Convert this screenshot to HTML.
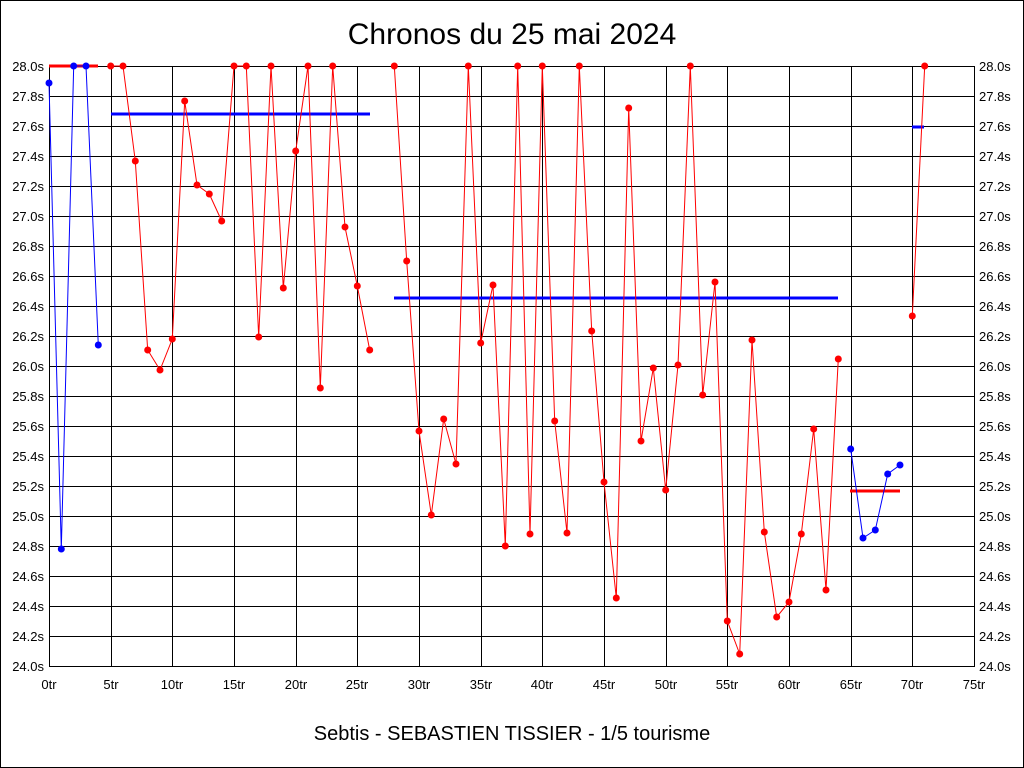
<!DOCTYPE html>
<html><head><style>body{margin:0;background:#fff}svg{display:block}text{font-family:"Liberation Sans",sans-serif}</style></head><body>
<svg width="1024" height="768" xmlns="http://www.w3.org/2000/svg">
<rect x="0.5" y="0.5" width="1023" height="767" fill="#fff" stroke="#000"/>
<text x="512" y="44" font-size="30" text-anchor="middle">Chronos du 25 mai 2024</text>
<text x="512" y="740" font-size="20" text-anchor="middle">Sebtis - SEBASTIEN TISSIER - 1/5 tourisme</text>
<g stroke="#000" stroke-width="1">
<line x1="49" x2="974" y1="66.5" y2="66.5"/><line x1="49" x2="974" y1="96.5" y2="96.5"/><line x1="49" x2="974" y1="126.5" y2="126.5"/><line x1="49" x2="974" y1="156.5" y2="156.5"/><line x1="49" x2="974" y1="186.5" y2="186.5"/><line x1="49" x2="974" y1="216.5" y2="216.5"/><line x1="49" x2="974" y1="246.5" y2="246.5"/><line x1="49" x2="974" y1="276.5" y2="276.5"/><line x1="49" x2="974" y1="306.5" y2="306.5"/><line x1="49" x2="974" y1="336.5" y2="336.5"/><line x1="49" x2="974" y1="366.5" y2="366.5"/><line x1="49" x2="974" y1="396.5" y2="396.5"/><line x1="49" x2="974" y1="426.5" y2="426.5"/><line x1="49" x2="974" y1="456.5" y2="456.5"/><line x1="49" x2="974" y1="486.5" y2="486.5"/><line x1="49" x2="974" y1="516.5" y2="516.5"/><line x1="49" x2="974" y1="546.5" y2="546.5"/><line x1="49" x2="974" y1="576.5" y2="576.5"/><line x1="49" x2="974" y1="606.5" y2="606.5"/><line x1="49" x2="974" y1="636.5" y2="636.5"/><line x1="49" x2="974" y1="666.5" y2="666.5"/>
<line y1="66" y2="667" x1="49.5" x2="49.5"/><line y1="66" y2="667" x1="111.5" x2="111.5"/><line y1="66" y2="667" x1="172.5" x2="172.5"/><line y1="66" y2="667" x1="234.5" x2="234.5"/><line y1="66" y2="667" x1="296.5" x2="296.5"/><line y1="66" y2="667" x1="357.5" x2="357.5"/><line y1="66" y2="667" x1="419.5" x2="419.5"/><line y1="66" y2="667" x1="481.5" x2="481.5"/><line y1="66" y2="667" x1="542.5" x2="542.5"/><line y1="66" y2="667" x1="604.5" x2="604.5"/><line y1="66" y2="667" x1="666.5" x2="666.5"/><line y1="66" y2="667" x1="727.5" x2="727.5"/><line y1="66" y2="667" x1="789.5" x2="789.5"/><line y1="66" y2="667" x1="851.5" x2="851.5"/><line y1="66" y2="667" x1="912.5" x2="912.5"/><line y1="66" y2="667" x1="974.5" x2="974.5"/>
</g>
<g font-size="13" text-anchor="end">
<text x="44" y="71">28.0s</text><text x="44" y="101">27.8s</text><text x="44" y="131">27.6s</text><text x="44" y="161">27.4s</text><text x="44" y="191">27.2s</text><text x="44" y="221">27.0s</text><text x="44" y="251">26.8s</text><text x="44" y="281">26.6s</text><text x="44" y="311">26.4s</text><text x="44" y="341">26.2s</text><text x="44" y="371">26.0s</text><text x="44" y="401">25.8s</text><text x="44" y="431">25.6s</text><text x="44" y="461">25.4s</text><text x="44" y="491">25.2s</text><text x="44" y="521">25.0s</text><text x="44" y="551">24.8s</text><text x="44" y="581">24.6s</text><text x="44" y="611">24.4s</text><text x="44" y="641">24.2s</text><text x="44" y="671">24.0s</text>
</g>
<g font-size="13">
<text x="979" y="71">28.0s</text><text x="979" y="101">27.8s</text><text x="979" y="131">27.6s</text><text x="979" y="161">27.4s</text><text x="979" y="191">27.2s</text><text x="979" y="221">27.0s</text><text x="979" y="251">26.8s</text><text x="979" y="281">26.6s</text><text x="979" y="311">26.4s</text><text x="979" y="341">26.2s</text><text x="979" y="371">26.0s</text><text x="979" y="401">25.8s</text><text x="979" y="431">25.6s</text><text x="979" y="461">25.4s</text><text x="979" y="491">25.2s</text><text x="979" y="521">25.0s</text><text x="979" y="551">24.8s</text><text x="979" y="581">24.6s</text><text x="979" y="611">24.4s</text><text x="979" y="641">24.2s</text><text x="979" y="671">24.0s</text>
</g>
<g font-size="13" text-anchor="middle">
<text x="49" y="689">0tr</text><text x="111" y="689">5tr</text><text x="172" y="689">10tr</text><text x="234" y="689">15tr</text><text x="296" y="689">20tr</text><text x="357" y="689">25tr</text><text x="419" y="689">30tr</text><text x="481" y="689">35tr</text><text x="542" y="689">40tr</text><text x="604" y="689">45tr</text><text x="666" y="689">50tr</text><text x="727" y="689">55tr</text><text x="789" y="689">60tr</text><text x="851" y="689">65tr</text><text x="912" y="689">70tr</text><text x="974" y="689">75tr</text>
</g>
<g stroke-width="3">
<line x1="49" x2="98" y1="66" y2="66" stroke="#f00"/>
<line x1="111" x2="370" y1="114" y2="114" stroke="#00f"/>
<line x1="394" x2="838" y1="298" y2="298" stroke="#00f"/>
<line x1="850" x2="900" y1="491" y2="491" stroke="#f00"/>
<line x1="912" x2="924" y1="127" y2="127" stroke="#00f"/>
</g>
<g fill="none" stroke-width="1">
<polyline stroke="#00f" points="49,83 61.3,549 73.7,66 86,66 98.3,345"/>
<polyline stroke="#f00" points="110.7,66 123,66 135.3,161 147.7,350 160,370 172.3,339 184.7,101 197,185 209.3,194 221.7,221 234,66 246.3,66 258.7,337 271,66 283.3,288 295.7,151 308,66 320.3,388 332.7,66 345,227 357.3,286 369.7,350"/>
<polyline stroke="#f00" points="394.3,66 406.7,261 419,431 431.3,515 443.7,419 456,464 468.3,66 480.7,343 493,285 505.3,546 517.7,66 530,534 542.3,66 554.7,421 567,533 579.3,66 591.7,331 604,482 616.3,598 628.7,108 641,441 653.3,368 665.7,490 678,365 690.3,66 702.7,395 715,282 727.3,621 739.7,654 752,340 764.3,532 776.7,617 789,602 801.3,534 813.7,429 826,590 838.3,359"/>
<polyline stroke="#00f" points="850.7,449 863,538 875.3,530 887.7,474 900,465"/>
<polyline stroke="#f00" points="912.3,316 924.7,66"/>
</g>
<g fill="#00f">
<circle cx="49" cy="83" r="3.5"/><circle cx="61.3" cy="549" r="3.5"/><circle cx="73.7" cy="66" r="3.5"/><circle cx="86" cy="66" r="3.5"/><circle cx="98.3" cy="345" r="3.5"/>
<circle cx="850.7" cy="449" r="3.5"/><circle cx="863" cy="538" r="3.5"/><circle cx="875.3" cy="530" r="3.5"/><circle cx="887.7" cy="474" r="3.5"/><circle cx="900" cy="465" r="3.5"/>
</g>
<g fill="#f00">
<circle cx="110.7" cy="66" r="3.5"/><circle cx="123" cy="66" r="3.5"/><circle cx="135.3" cy="161" r="3.5"/><circle cx="147.7" cy="350" r="3.5"/><circle cx="160" cy="370" r="3.5"/><circle cx="172.3" cy="339" r="3.5"/><circle cx="184.7" cy="101" r="3.5"/><circle cx="197" cy="185" r="3.5"/><circle cx="209.3" cy="194" r="3.5"/><circle cx="221.7" cy="221" r="3.5"/><circle cx="234" cy="66" r="3.5"/><circle cx="246.3" cy="66" r="3.5"/><circle cx="258.7" cy="337" r="3.5"/><circle cx="271" cy="66" r="3.5"/><circle cx="283.3" cy="288" r="3.5"/><circle cx="295.7" cy="151" r="3.5"/><circle cx="308" cy="66" r="3.5"/><circle cx="320.3" cy="388" r="3.5"/><circle cx="332.7" cy="66" r="3.5"/><circle cx="345" cy="227" r="3.5"/><circle cx="357.3" cy="286" r="3.5"/><circle cx="369.7" cy="350" r="3.5"/>
<circle cx="394.3" cy="66" r="3.5"/><circle cx="406.7" cy="261" r="3.5"/><circle cx="419" cy="431" r="3.5"/><circle cx="431.3" cy="515" r="3.5"/><circle cx="443.7" cy="419" r="3.5"/><circle cx="456" cy="464" r="3.5"/><circle cx="468.3" cy="66" r="3.5"/><circle cx="480.7" cy="343" r="3.5"/><circle cx="493" cy="285" r="3.5"/><circle cx="505.3" cy="546" r="3.5"/><circle cx="517.7" cy="66" r="3.5"/><circle cx="530" cy="534" r="3.5"/><circle cx="542.3" cy="66" r="3.5"/><circle cx="554.7" cy="421" r="3.5"/><circle cx="567" cy="533" r="3.5"/><circle cx="579.3" cy="66" r="3.5"/><circle cx="591.7" cy="331" r="3.5"/><circle cx="604" cy="482" r="3.5"/><circle cx="616.3" cy="598" r="3.5"/><circle cx="628.7" cy="108" r="3.5"/><circle cx="641" cy="441" r="3.5"/><circle cx="653.3" cy="368" r="3.5"/><circle cx="665.7" cy="490" r="3.5"/><circle cx="678" cy="365" r="3.5"/><circle cx="690.3" cy="66" r="3.5"/><circle cx="702.7" cy="395" r="3.5"/><circle cx="715" cy="282" r="3.5"/><circle cx="727.3" cy="621" r="3.5"/><circle cx="739.7" cy="654" r="3.5"/><circle cx="752" cy="340" r="3.5"/><circle cx="764.3" cy="532" r="3.5"/><circle cx="776.7" cy="617" r="3.5"/><circle cx="789" cy="602" r="3.5"/><circle cx="801.3" cy="534" r="3.5"/><circle cx="813.7" cy="429" r="3.5"/><circle cx="826" cy="590" r="3.5"/><circle cx="838.3" cy="359" r="3.5"/>
<circle cx="912.3" cy="316" r="3.5"/><circle cx="924.7" cy="66" r="3.5"/>
</g>
</svg>
</body></html>
